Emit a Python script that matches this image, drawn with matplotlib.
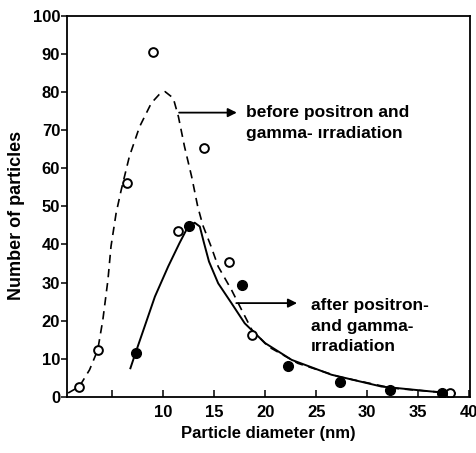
#!/usr/bin/env python3
# -*- coding: utf-8 -*-
"""
Particle size distribution before / after positron and gamma irradiation
"""
import matplotlib
matplotlib.use("Agg")
import matplotlib.pyplot as plt

plt.rcParams['font.family'] = ['Liberation Sans', 'DejaVu Sans']
plt.rcParams['font.weight'] = 'bold'
plt.rcParams['axes.labelweight'] = 'bold'

# --- data ---
before_d = [1.8, 3.6, 6.5, 9.0, 11.5, 14.0, 16.5, 18.7, 38.1]
before_n = [2.6, 12.3, 56.2, 90.6, 43.6, 65.4, 35.3, 16.3, 0.9]

after_d = [7.3, 12.5, 17.7, 22.2, 27.3, 32.2, 37.3]
after_n = [11.5, 44.8, 29.4, 8.0, 3.8, 1.7, 1.0]

# fitted curves (traced)
before_fit_d = [0.7, 1.8, 2.8, 3.6, 4.1, 4.6, 4.9, 5.4, 5.9, 6.7, 7.7, 8.85, 9.6,
                10.2, 11.0, 11.5, 12.1, 12.8, 13.4, 13.9, 14.7, 15.4, 16.7, 17.7,
                18.7, 20.3, 23.2, 27.2, 32.4, 36.3, 38.6]
before_fit_n = [1.0, 2.7, 7.1, 12.3, 20.2, 30.7, 39.5, 48.2, 54.3, 63.1, 70.9, 77.1,
                79.3, 80.1, 78.4, 73.6, 65.7, 57.8, 49.9, 45.0, 39.5, 34.2, 28.1,
                22.8, 17.6, 13.2, 8.8, 5.3, 2.3, 1.4, 0.9]

after_fit_d = [6.8, 7.3, 8.2, 9.2, 10.5, 11.6, 12.45, 13.1, 13.6, 14.0, 14.5, 15.4,
               16.7, 18.0, 20.0, 22.6, 26.5, 31.4, 36.3, 38.6]
after_fit_n = [7.5, 11.5, 18.5, 26.3, 34.2, 40.3, 44.7, 45.7, 44.7, 40.5, 35.5, 29.8,
               24.6, 19.3, 14.1, 9.7, 5.8, 2.7, 1.4, 0.9]

x_ticks = [5, 10, 15, 20, 25, 30, 35, 40]
x_tick_labels = ['', '10', '15', '20', '25', '30', '35', '40']
y_ticks = [0, 10, 20, 30, 40, 50, 60, 70, 80, 90, 100]

fig = plt.figure(figsize=(4.76, 4.53), dpi=100)
ax = fig.add_axes([0.141, 0.124, 0.847, 0.841])

ax.plot(before_fit_d, before_fit_n, 'k-', lw=1.2, dashes=(5, 3.5))
ax.plot(after_fit_d, after_fit_n, 'k-', lw=1.4)
ax.plot(before_d, before_n, 'o', mfc='white', mec='black', mew=1.4, ms=6.3)
ax.plot(after_d, after_n, 'o', mfc='black', mec='black', ms=7)

# labels with arrows
ax.annotate('', xy=(17.5, 74.6), xytext=(11.3, 74.6),
            arrowprops=dict(arrowstyle='-|>', color='black', lw=1.3, mutation_scale=13))
ax.text(18.1, 71.8, 'before positron and\ngamma- ırradiation', fontsize=12.5,
        va='center', ha='left', linespacing=1.5)

ax.annotate('', xy=(23.4, 24.6), xytext=(16.9, 24.6),
            arrowprops=dict(arrowstyle='-|>', color='black', lw=1.3, mutation_scale=13))
ax.text(24.5, 18.5, 'after positron-\nand gamma-\nırradiation', fontsize=12.5,
        va='center', ha='left', linespacing=1.45)

ax.set_xlim(0.6, 40.1)
ax.set_ylim(0, 100)
ax.set_xticks(x_ticks)
ax.set_xticklabels(x_tick_labels)
ax.set_yticks(y_ticks)
ax.tick_params(axis='x', direction='in', length=5, width=1.1, labelsize=12, pad=6)
ax.tick_params(axis='y', direction='out', length=4, width=1.1, labelsize=12, pad=1)
ax.set_xlabel('Particle diameter (nm)', fontsize=12, labelpad=4)
ax.set_ylabel('Number of particles', fontsize=13)
ax.yaxis.set_label_coords(-0.104, 0.475)
for s in ax.spines.values():
    s.set_linewidth(1.3)

plt.savefig('out.png', dpi=100)
plt.close()
